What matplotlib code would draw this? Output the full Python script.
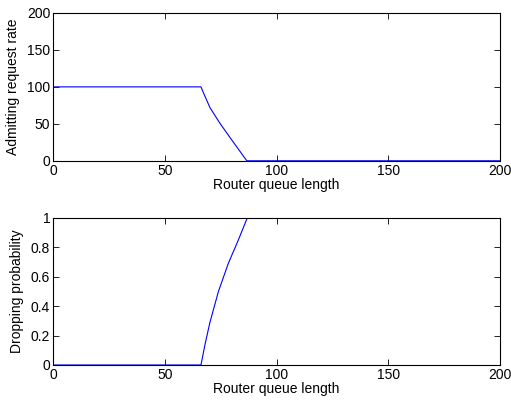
import numpy as np
import matplotlib
matplotlib.use("Agg")
import matplotlib.pyplot as plt

plt.rcParams['font.family'] = ['Liberation Sans', 'DejaVu Sans']
plt.rcParams['font.size'] = 10

"data read from picture"
queue_rate = [0, 66.2, 67.3, 70.2, 74.7, 80.0, 86.7, 200]
admit_rate = [100, 100, 92.0, 72.0, 50.6, 28.0, 0, 0]

queue_prob = [0, 66.2, 68.0, 70.2, 74.0, 78.4, 82.9, 86.9, 200]
drop_prob = [0, 0, 0.14, 0.29, 0.50, 0.69, 0.85, 1.0, 1.0]

fig = plt.figure(figsize=(5.11, 4.05), dpi=100)
ax1 = fig.add_axes([0.1037, 0.603, 0.875, 0.365])
ax2 = fig.add_axes([0.1037, 0.0988, 0.875, 0.363])

ax1.plot(queue_rate, admit_rate, color='b', lw=0.8)
ax1.set_xlim(0, 200)
ax1.set_ylim(0, 200)
ax1.set_xticks([0, 50, 100, 150, 200])
ax1.set_yticks([0, 50, 100, 150, 200])
ax1.set_xlabel('Router queue length', labelpad=0)
ax1.set_ylabel('Admitting request rate', labelpad=5)

ax2.plot(queue_prob, drop_prob, color='b', lw=0.8)
ax2.set_xlim(0, 200)
ax2.set_ylim(0, 1)
ax2.set_xticks([0, 50, 100, 150, 200])
ax2.set_yticks([0, 0.2, 0.4, 0.6, 0.8, 1])
ax2.set_yticklabels(['0', '0.2', '0.4', '0.6', '0.8', '1'])
ax2.set_xlabel('Router queue length', labelpad=0)
ax2.set_ylabel('Dropping probability', labelpad=5)

for ax in (ax1, ax2):
    ax.tick_params(direction='in', top=True, right=True, length=4, width=0.6, pad=2)
    for s in ax.spines.values():
        s.set_linewidth(0.8)

fig.savefig('out.png', dpi=100)
